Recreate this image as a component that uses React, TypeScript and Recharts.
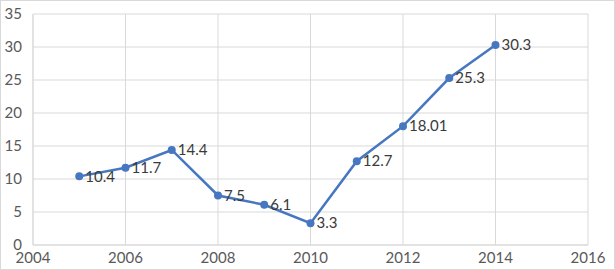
import { LineChart, Line, XAxis, YAxis, CartesianGrid, LabelList } from 'recharts';

const years = [2005, 2006, 2007, 2008, 2009, 2010, 2011, 2012, 2013, 2014];
const values = [10.4, 11.7, 14.4, 7.5, 6.1, 3.3, 12.7, 18.01, 25.3, 30.3];
const labels = ['10.4', '11.7', '14.4', '7.5', '6.1', '3.3', '12.7', '18.01', '25.3', '30.3'];
const xTicks = [2004, 2006, 2008, 2010, 2012, 2014, 2016];
const yTicks = [0, 5, 10, 15, 20, 25, 30, 35];

const data = years.map((year, i) => ({ year, value: values[i], label: labels[i] }));

const FONT = 'Lato, "Liberation Sans", sans-serif';

// label to the right of each point, vertically centred
const PointLabel = (props: any) => {
  const { x, y, value } = props;
  return (
    <text x={x + 6} y={y} dy="0.35em" fill="#3a3a3a" fontSize={15} fontFamily={FONT} textAnchor="start">
      {value}
    </text>
  );
};

export default function App() {
  return (
    <div
      style={{
        position: 'absolute',
        top: 0,
        left: 0,
        width: 615,
        height: 270,
        border: '1px solid #d9d9d9',
        boxSizing: 'border-box',
        background: '#fff',
      }}
    >
      <LineChart
        width={613}
        height={268}
        data={data}
        margin={{ top: 14, right: 25, left: 0, bottom: 0 }}
        style={{ position: 'absolute', top: -1, left: -1 }}
      >
        <CartesianGrid stroke="#d9d9d9" strokeWidth={1} />
        <XAxis
          dataKey="year"
          type="number"
          domain={[2004, 2016]}
          ticks={xTicks}
          height={23}
          axisLine={{ stroke: '#d9d9d9' }}
          tickLine={false}
          tick={{ fill: '#595959', fontSize: 15, fontFamily: FONT }}
          tickMargin={1}
          interval={0}
        />
        <YAxis
          type="number"
          domain={[0, 35]}
          ticks={yTicks}
          width={33}
          axisLine={{ stroke: '#d9d9d9' }}
          tickLine={false}
          tick={{ fill: '#595959', fontSize: 15, fontFamily: FONT }}
          tickMargin={5}
          interval={0}
        />
        <Line
          dataKey="value"
          stroke="#4677c0"
          strokeWidth={2.5}
          dot={{ r: 4, fill: '#4677c0', stroke: '#4677c0', strokeWidth: 0 }}
          isAnimationActive={false}
        >
          <LabelList dataKey="label" content={PointLabel} />
        </Line>
      </LineChart>
    </div>
  );
}
